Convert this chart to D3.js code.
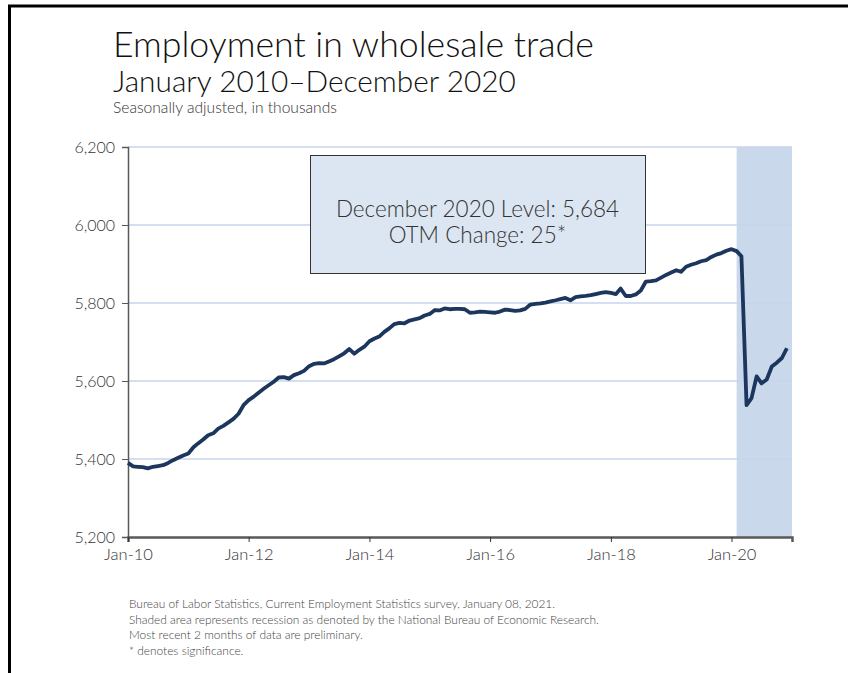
<!DOCTYPE html>
<html>
<head>
<meta charset="utf-8">
<script src="https://cdn.jsdelivr.net/npm/d3@7"></script>
<style>
  body { margin: 0; background: #fff; }
  text { font-family: Lato, "Open Sans", sans-serif; }
</style>
</head>
<body>
<div id="chart"></div>
<script>
// monthly values, Jan 2010 - Dec 2020 (thousands)
var values2010 = [5390, 5381, 5380, 5379, 5376, 5380, 5382, 5384, 5390, 5397, 5403, 5409]
var values2011 = [5414, 5430, 5440, 5450, 5461, 5466, 5478, 5485, 5494, 5503, 5516, 5538]
var values2012 = [5551, 5560, 5570, 5580, 5589, 5598, 5609, 5610, 5606, 5615, 5620, 5626]
var values2013 = [5638, 5644, 5646, 5645, 5650, 5656, 5663, 5671, 5682, 5670, 5680, 5688]
var values2014 = [5702, 5709, 5714, 5726, 5735, 5746, 5749, 5748, 5755, 5758, 5761, 5768]
var values2015 = [5772, 5782, 5781, 5786, 5784, 5785, 5785, 5784, 5775, 5776, 5778, 5777]
var values2016 = [5776, 5775, 5778, 5783, 5782, 5780, 5781, 5785, 5796, 5798, 5799, 5801]
var values2017 = [5804, 5807, 5810, 5813, 5807, 5815, 5817, 5818, 5820, 5823, 5826, 5828]
var values2018 = [5826, 5823, 5837, 5818, 5818, 5822, 5832, 5855, 5856, 5858, 5865, 5872]
var values2019 = [5878, 5884, 5880, 5893, 5898, 5902, 5907, 5910, 5918, 5924, 5928, 5934]
var values2020 = [5938, 5933, 5920, 5538, 5556, 5612, 5594, 5604, 5637, 5647, 5659, 5684]

var yTicks = [5200, 5400, 5600, 5800, 6000, 6200]
var xTickYears = [2010, 2012, 2014, 2016, 2018, 2020]
var recession = [new Date(2020, 1, 1), new Date(2021, 0, 1)]

var footnotes = [
    "Bureau of Labor Statistics, Current Employment Statistics survey, January 08, 2021.",
    "Shaded area represents recession as denoted by the National Bureau of Economic Research.",
    "Most recent 2 months of data are preliminary.",
    "* denotes significance."
]

var allValues = [].concat(values2010, values2011, values2012, values2013, values2014,
    values2015, values2016, values2017, values2018, values2019, values2020)
var data = allValues.map(function (v, i) { return { date: new Date(2010, i, 1), value: v } })

var width = 848
var height = 673

var svg = d3.select("#chart")
    .append("svg")
    .attr("width", width)
    .attr("height", height)

// outer frame (only top and left edges are in view)
svg.append("rect")
    .attr("x", 9.5).attr("y", 6)
    .attr("width", width + 10).attr("height", height + 10)
    .style("fill", "none").style("stroke", "#000").style("stroke-width", 3)

// titles
svg.append("text").attr("x", 113).attr("y", 57).text("Employment in wholesale trade")
    .style("font-size", "35.7px").style("font-weight", 300).style("fill", "#111")
svg.append("text").attr("x", 113).attr("y", 92).text("January 2010\u2013December 2020")
    .style("font-size", "29.8px").style("font-weight", 300).style("fill", "#111")
svg.append("text").attr("x", 113).attr("y", 113).text("Seasonally adjusted, in thousands")
    .style("font-size", "15.6px").style("font-weight", 300).style("fill", "#333")

// scales
var x = d3.scaleTime()
    .domain([new Date(2010, 0, 1), new Date(2021, 0, 1)])
    .range([128, 792])
var y = d3.scaleLinear()
    .domain([5200, 6200])
    .range([537, 147])

// recession shading
svg.append("rect")
    .attr("x", x(recession[0]))
    .attr("y", y(6200))
    .attr("width", x(recession[1]) - x(recession[0]))
    .attr("height", y(5200) - y(6200))
    .style("fill", "#c9d8eb")

// gridlines
svg.append("g")
    .selectAll("line")
    .data(yTicks.slice(1))
    .enter()
    .append("line")
    .attr("x1", 128).attr("x2", 792)
    .attr("y1", function (d) { return y(d) }).attr("y2", function (d) { return y(d) })
    .style("stroke", "#c5d6ec").style("stroke-opacity", 0.75).style("stroke-width", 2)

// y axis
var yAxis = svg.append("g")
    .attr("transform", "translate(128,0)")
    .call(d3.axisLeft(y).tickValues(yTicks).tickSize(6).tickPadding(7).tickFormat(d3.format(",")))
yAxis.select(".domain").style("stroke", "#595959").style("stroke-width", 1.5)
yAxis.selectAll(".tick line").style("stroke", "#595959")
yAxis.selectAll("text").style("font-size", "16px").style("font-family", "Lato, sans-serif")
    .style("font-weight", 300).style("fill", "#333")

// x axis
var xAxis = svg.append("g")
    .attr("transform", "translate(0,537)")
    .call(d3.axisBottom(x)
        .tickValues(xTickYears.map(function (yr) { return new Date(yr, 0, 1) }))
        .tickSize(5).tickPadding(6)
        .tickFormat(d3.timeFormat("Jan-%y")))
xAxis.select(".domain").style("stroke", "#595959").style("stroke-width", 2.5)
xAxis.selectAll(".tick line").style("stroke", "#333")
xAxis.selectAll("text").style("font-size", "16.5px").style("font-family", "Lato, sans-serif")
    .style("font-weight", 300).style("fill", "#333")

// the data line
var line = d3.line()
    .x(function (d) { return x(d.date) })
    .y(function (d) { return y(d.value) })
svg.append("path")
    .datum(data)
    .attr("d", line)
    .style("fill", "none")
    .style("stroke", "#1c365e")
    .style("stroke-width", 3.8)
    .style("stroke-linejoin", "round")

// annotation box
var last = data[data.length - 1]
var prev = data[data.length - 2]
svg.append("rect")
    .attr("x", 310.5).attr("y", 155.5).attr("width", 335).attr("height", 118)
    .style("fill", "#dce6f2").style("stroke", "#333").style("stroke-width", 1)
svg.append("text").attr("x", 477.5).attr("y", 217).attr("text-anchor", "middle")
    .text("December 2020 Level: " + d3.format(",")(last.value))
    .style("font-size", "22.5px").style("font-weight", 300).style("fill", "#333")
svg.append("text").attr("x", 477.5).attr("y", 243).attr("text-anchor", "middle")
    .text("OTM Change: " + (last.value - prev.value) + "*")
    .style("font-size", "22.5px").style("font-weight", 300).style("fill", "#333")

// footnotes
svg.append("g")
    .selectAll("text")
    .data(footnotes)
    .enter()
    .append("text")
    .attr("x", 129)
    .attr("y", function (d, i) { return 608 + i * 15.7 })
    .text(function (d) { return d })
    .style("font-size", "11.9px").style("font-weight", 300).style("fill", "#444")
</script>
</body>
</html>
